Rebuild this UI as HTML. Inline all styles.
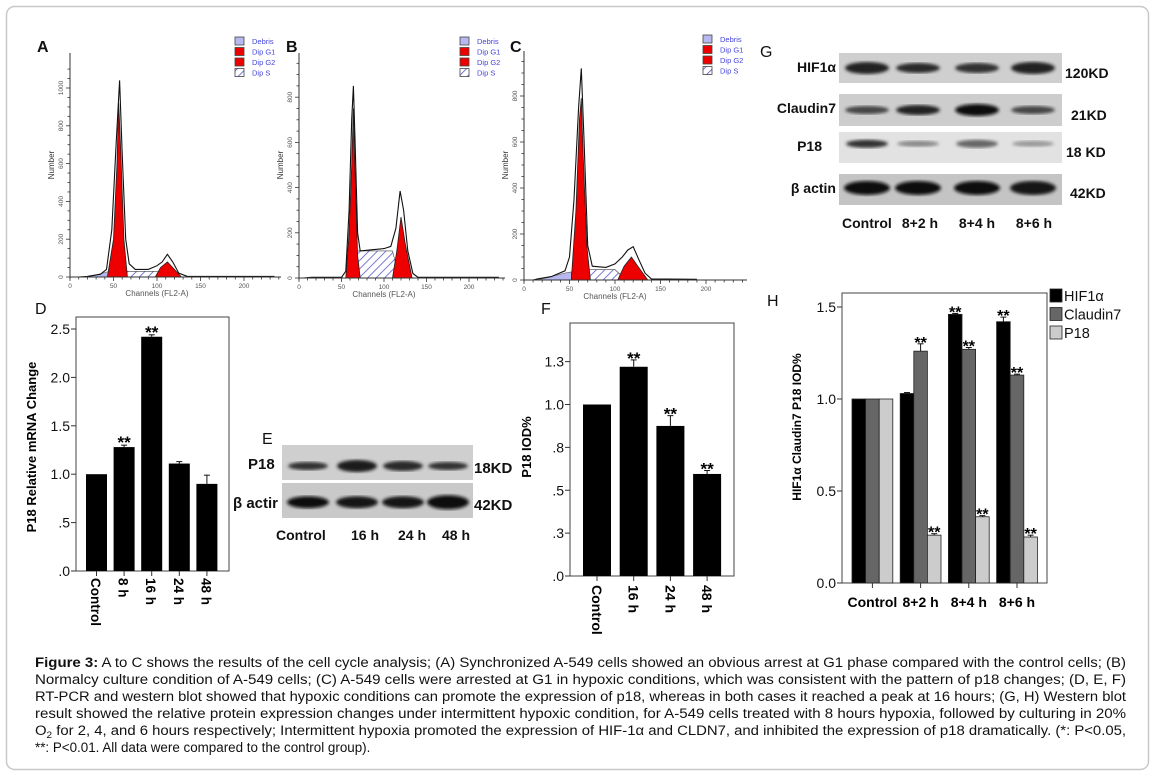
<!DOCTYPE html>
<html><head><meta charset="utf-8"><style>
html,body{margin:0;padding:0;background:#fff;}
svg{display:block;font-family:"Liberation Sans",Arial,sans-serif;}
</style></head><body>
<svg id="fig" width="1155" height="778" viewBox="0 0 1155 778" xmlns="http://www.w3.org/2000/svg">
<defs>
<pattern id="hatch" patternUnits="userSpaceOnUse" width="6" height="6" patternTransform="rotate(45)">
<rect width="6" height="6" fill="#fff"/><line x1="0" y1="0" x2="0" y2="6" stroke="#5555cc" stroke-width="1.6"/>
</pattern>
<filter id="blur1"><feGaussianBlur stdDeviation="1.6"/></filter>
</defs>
<rect x="6.5" y="6.5" width="1142" height="763" rx="8" fill="#fff" stroke="#c8c8c8" stroke-width="1.5"/>
<g id="hist"></g>
<g id="blotG"></g>
<g id="blotE"></g>
<g id="chartD"></g>
<g id="chartF"></g>
<g id="chartH"></g>
<g font-size="13.4" fill="#111">
<text x="35" y="667" textLength="1091" lengthAdjust="spacingAndGlyphs"><tspan font-weight="bold">Figure 3:</tspan> A to C shows the results of the cell cycle analysis; (A) Synchronized A-549 cells  showed an obvious arrest at G1 phase compared with the control cells; (B)</text>
<text x="35" y="684" textLength="1091" lengthAdjust="spacingAndGlyphs">Normalcy culture condition of A-549 cells; (C) A-549 cells were arrested at G1 in hypoxic conditions, which was consistent with the pattern of p18 changes; (D, E, F)</text>
<text x="35" y="701" textLength="1091" lengthAdjust="spacingAndGlyphs">RT-PCR and western blot showed that hypoxic conditions can promote the expression of p18, whereas in both cases it reached a peak at 16 hours; (G, H) Western blot</text>
<text x="35" y="718" textLength="1091" lengthAdjust="spacingAndGlyphs">result showed the relative protein expression changes under intermittent hypoxic condition, for A-549 cells treated with 8 hours hypoxia, followed by culturing in 20%</text>
<text x="35" y="735" textLength="1091" lengthAdjust="spacingAndGlyphs">O<tspan font-size="9" dy="3">2</tspan><tspan dy="-3"> for 2, 4, and 6 hours respectively; Intermittent hypoxia promoted the expression of HIF-1α and CLDN7, and inhibited the expression of p18 dramatically. (*: P&lt;0.05,</tspan></text>
<text x="35" y="752" font-size="13.4">**: P&lt;0.01. All data were compared to the control group).</text>
</g>
</svg>
<script>
// ---------- Chart D data ----------
const dCategories = ["Control","8 h","16 h","24 h","48 h"];
const dValues = [1.0, 1.28, 2.42, 1.11, 0.90];
const dErrors = [0.0, 0.02, 0.02, 0.02, 0.09];
const dStars = ["", "**", "**", "", ""];
const dTickValues = [0, 0.5, 1.0, 1.5, 2.0, 2.5];
const dTickLabels = [".0", ".5", "1.0", "1.5", "2.0", "2.5"];
// ---------- Chart F data ----------
const fCategories = ["Control","16 h","24 h","48 h"];
const fValues = [1.0, 1.22, 0.875, 0.595];
const fErrors = [0.0, 0.04, 0.06, 0.02];
const fStars = ["", "**", "**", "**"];
const fTickValues = [0, 0.25, 0.5, 0.75, 1.0, 1.25];
const fTickLabels = [".0", ".3", ".5", ".8", "1.0", "1.3"];
// ---------- Chart H data ----------
const hCategories = ["Control","8+2 h","8+4 h","8+6 h"];
const hSeriesNames = ["HIF1α","Claudin7","P18"];
const hHif = [1.0, 1.03, 1.46, 1.42];
const hClaudin = [1.0, 1.26, 1.27, 1.13];
const hP18 = [1.0, 0.26, 0.36, 0.25];
const hHifErr = [0, 0.005, 0.005, 0.025];
const hClaudinErr = [0, 0.04, 0.01, 0.005];
const hP18Err = [0, 0.008, 0.006, 0.01];
const hHifStars = ["", "", "**", "**"];
const hClaudinStars = ["", "**", "**", "**"];
const hP18Stars = ["", "**", "**", "**"];
const hTickValues = [0, 0.5, 1.0, 1.5];
const hTickLabels = ["0.0", "0.5", "1.0", "1.5"];
// ---------- Histogram data (channel, count) ----------
const aDebris = [[15,0],[30,10],[45,30],[50,0]];
const aS = [[55,0],[58,30],[100,30],[110,0]];
const aG1 = [[43,0],[50,200],[54,600],[56,920],[58,700],[62,200],[66,0]];
const aG2 = [[98,0],[104,50],[112,80],[120,40],[128,0]];
const aOutline = [[10,0],[20,3],[35,15],[42,40],[48,250],[53,700],[57,1040],[60,650],[64,200],[68,70],[75,40],[90,40],[100,60],[106,80],[112,120],[118,80],[125,20],[135,3],[235,3]];
const bDebris = [[5,0],[50,2],[55,0]];
const bS = [[63,0],[68,120],[110,120],[118,0]];
const bG1 = [[55,0],[59,200],[62,500],[64,750],[66,450],[69,100],[72,0]];
const bG2 = [[110,0],[115,120],[120,270],[125,150],[133,0]];
const bOutline = [[5,0],[15,3],[50,3],[55,30],[59,300],[62,700],[64,850],[66,600],[69,200],[72,120],[85,125],[100,130],[108,140],[114,220],[119,385],[123,300],[128,120],[134,20],[140,3],[235,3]];
const cDebris = [[15,0],[30,15],[45,30],[52,35],[52,0]];
const cS = [[62,0],[68,45],[100,45],[112,0]];
const cG1 = [[52,0],[57,300],[61,700],[63,790],[65,550],[69,150],[73,0]];
const cG2 = [[103,0],[110,60],[118,100],[125,60],[136,0]];
const cOutline = [[10,0],[15,5],[30,15],[45,40],[50,100],[55,350],[60,750],[63,920],[66,600],[70,150],[75,60],[90,55],[100,70],[108,100],[114,130],[120,145],[126,90],[133,30],[140,5],[190,3]];
const aYTicks = [0,200,400,600,800,1000];
const bYTicks = [0,200,400,600,800];
const cYTicks = [0,200,400,600,800];
const xChanTicks = [0,50,100,150,200];
const legendNames = ["Debris","Dip G1","Dip G2","Dip S"];

const NS = "http://www.w3.org/2000/svg";
function mk(parent, tag, attrs, text){
  const e = document.createElementNS(NS, tag);
  for (const k in attrs) e.setAttribute(k, attrs[k]);
  if (text !== undefined) e.textContent = text;
  parent.appendChild(e);
  return e;
}

// ---------- Histograms ----------
const hist = document.getElementById("hist");
function drawHist(p){
  const g = mk(hist, "g", {});
  
  
  const X = c => p.x0 + c * p.kx;
  const Y = n => p.y0 - n * p.ky;
  const poly = pts => pts.map(q => X(q[0]).toFixed(1) + "," + Y(q[1]).toFixed(1)).join(" ");
  let e = mk(g, "polygon", {points: poly(p.debris), fill:"#b8b8f0", stroke:"#666", "stroke-width":"0.6"});
  
  
  e = mk(g, "polygon", {points: poly(p.s), fill:"url(#hatch)", stroke:"#444", "stroke-width":"0.6"});
  
  
  e = mk(g, "polygon", {points: poly(p.g1), fill:"#ee0000", stroke:"#222", "stroke-width":"0.8"});
  
  
  e = mk(g, "polygon", {points: poly(p.g2), fill:"#ee0000", stroke:"#222", "stroke-width":"0.8"});
  
  
  e = mk(g, "polyline", {points: poly(p.outline), fill:"none", stroke:"#111", "stroke-width":"1.1"});
  
  
  mk(g, "line", {x1:p.x0, y1:p.yTop, x2:p.x0, y2:p.y0+2, stroke:"#333", "stroke-width":"1"});
  mk(g, "line", {x1:p.x0, y1:p.y0, x2:p.xEnd, y2:p.y0, stroke:"#333", "stroke-width":"1"});
  for (let c = 0; c <= 240; c += 10){
    const x = X(c); if (x > p.xEnd) break;
    mk(g, "line", {x1:x, y1:p.y0, x2:x, y2:p.y0 + (c%50===0?4:2.5), stroke:"#333", "stroke-width":"0.8"});
  }
  xChanTicks.forEach(c => {
    const t = mk(g, "text", {x:X(c), y:p.y0+11, "font-size":"6.5", fill:"#555", "text-anchor":"middle"}, String(c));
    
    
  });
  for (let n = 0; n <= p.yMax; n += 50){
    const y = Y(n); if (y < p.yTop) break;
    mk(g, "line", {x1:p.x0-(n%200===0?4:2.5), y1:y, x2:p.x0, y2:y, stroke:"#333", "stroke-width":"0.8"});
  }
  p.yTicks.forEach(n => {
    const t = mk(g, "text", {x:0, y:0, "font-size":"6.5", fill:"#555", "text-anchor":"middle", transform:`translate(${p.x0-7},${Y(n)}) rotate(-90)`}, String(n));
    
    
  });
  let t = mk(g, "text", {x:0, y:0, "font-size":"8", fill:"#333", "text-anchor":"middle", transform:`translate(${p.x0-16},${p.yLab}) rotate(-90)`}, "Number");
  
  
  t = mk(g, "text", {x:X(100), y:p.y0+19, "font-size":"8", fill:"#555", "text-anchor":"middle"}, "Channels (FL2-A)");
  
  
  t = mk(g, "text", {x:p.lx, y:p.ly, "font-size":"16", "font-weight":"bold", fill:"#111"}, p.id.toUpperCase());
  
  
  const fills = ["#b8b8f0","#ee0000","#ee0000","url(#hatch)"];
  legendNames.forEach((nm, i) => {
    const y = p.legY + i*10.5;
    const r = mk(g, "rect", {x:p.legX, y:y-4, width:9, height:8, fill:fills[i], stroke:"#444", "stroke-width":"0.8"});
    
    
    const tt = mk(g, "text", {x:p.legX+17, y:y+3, "font-size":"7.5", fill:"#4444dd"}, nm);
    
    
  });
}
drawHist({id:"a", x0:70, kx:0.87, y0:277, ky:0.189, yTop:53, xEnd:281, yMax:1100, yTicks:aYTicks, yLab:165,
  debris:aDebris, s:aS, g1:aG1, g2:aG2, outline:aOutline, lx:37, ly:52, legX:235, legY:41});
drawHist({id:"b", x0:299, kx:0.85, y0:278, ky:0.226, yTop:53, xEnd:505, yMax:950, yTicks:bYTicks, yLab:165,
  debris:bDebris, s:bS, g1:bG1, g2:bG2, outline:bOutline, lx:286, ly:52, legX:460, legY:41});
drawHist({id:"c", x0:524, kx:0.91, y0:280, ky:0.23, yTop:51, xEnd:747, yMax:950, yTicks:cYTicks, yLab:165,
  debris:cDebris, s:cS, g1:cG1, g2:cG2, outline:cOutline, lx:510, ly:52, legX:703, legY:39});

// ---------- Blots ----------
function blot(parent, name, x, y, w, h, bg, lanes, band){
  const g = mk(parent, "g", {});
  
  
  mk(g, "rect", {x:x, y:y, width:w, height:h, fill:bg});
  lanes.forEach((cx, i) => {
    const e = mk(g, "ellipse", {cx:cx, cy:y+h*band.pos, rx:band.rx, ry:band.ry[i], fill:band.col[i], filter:"url(#blur1)"});
    
    
  });
}
function label(parent, name, x, y, txt, size, anchor){
  const t = mk(parent, "text", {x:x, y:y, "font-size":size, "font-weight":"bold", fill:"#111", "text-anchor":anchor||"start"}, txt);
  
  
}
const gB = document.getElementById("blotG");
const gl = [867, 918, 977, 1033];
blot(gB, "hif1a-blot", 839, 53, 223, 30, "#cfcfcf", gl, {pos:0.5, rx:22, ry:[6,5,5,6], col:["#222","#2a2a2a","#333","#222"]});
blot(gB, "claudin7-blot", 839, 94, 223, 32, "#cdcdcd", gl, {pos:0.5, rx:22, ry:[4,5,6,4], col:["#444","#222","#111","#444"]});
blot(gB, "p18-blot-g", 839, 132, 223, 31, "#e2e2e2", gl, {pos:0.38, rx:21, ry:[4,3,4,3], col:["#333","#888","#666","#999"]});
blot(gB, "beta-actin-blot-g", 839, 174, 223, 31, "#c4c4c4", gl, {pos:0.45, rx:23, ry:[7,7,7,7], col:["#111","#111","#111","#151515"]});
label(gB, "panel-label", 760, 57, "G", 16);
gB.lastChild.setAttribute("font-weight","normal");
label(gB, "row-label", 836, 72, "HIF1α", 14, "end");
label(gB, "row-label", 836, 113, "Claudin7", 14, "end");
label(gB, "row-label", 822, 151, "P18", 14, "end");
label(gB, "row-label", 836, 193, "β actin", 14, "end");
label(gB, "size-label", 1065, 78, "120KD", 14);
label(gB, "size-label", 1071, 120, "21KD", 14);
label(gB, "size-label", 1066, 157, "18 KD", 14);
label(gB, "size-label", 1070, 198, "42KD", 14);
label(gB, "lane-label", 842, 228, "Control", 14);
label(gB, "lane-label", 920, 228, "8+2 h", 14, "middle");
label(gB, "lane-label", 977, 228, "8+4 h", 14, "middle");
label(gB, "lane-label", 1034, 228, "8+6 h", 14, "middle");

const gE = document.getElementById("blotE");
const el = [308, 357, 403, 448];
blot(gE, "p18-blot-e", 282, 445, 191, 35, "#cfcfcf", el, {pos:0.6, rx:20, ry:[4,6,5,4], col:["#333","#1a1a1a","#2a2a2a","#333"]});
blot(gE, "beta-actin-blot-e", 282, 483, 191, 35, "#c9c9c9", el, {pos:0.55, rx:21, ry:[6,6,6,7], col:["#111","#151515","#151515","#111"]});
label(gE, "panel-label", 262, 444, "E", 16);
gE.lastChild.setAttribute("font-weight","normal");
label(gE, "row-label", 248, 469, "P18", 15);
label(gE, "row-label", 233, 508, "β actir", 15);
label(gE, "size-label", 474, 473, "18KD", 15);
label(gE, "size-label", 474, 510, "42KD", 15);
label(gE, "lane-label", 276, 540, "Control", 14);
label(gE, "lane-label", 365, 540, "16 h", 14, "middle");
label(gE, "lane-label", 412, 540, "24 h", 14, "middle");
label(gE, "lane-label", 456, 540, "48 h", 14, "middle");

// ---------- Bar chart helpers ----------
function axisBox(g, L, T, R, B){
  const r = mk(g, "rect", {x:L, y:T, width:R-L, height:B-T, fill:"none", stroke:"#444", "stroke-width":"1"});
  
  
}
function yTicks(g, L, vals, labs, yf, size){
  vals.forEach((v, i) => {
    const y = yf(v);
    mk(g, "line", {x1:L-5, y1:y, x2:L, y2:y, stroke:"#333", "stroke-width":"1"});
    const t = mk(g, "text", {x:L-6, y:y+5, "font-size":size, fill:"#111", "text-anchor":"end"}, labs[i]);
    
    
  });
}
function errBar(g, cx, top, err, yf, v){
  if (err <= 0) return;
  const y1 = yf(v+err);
  mk(g, "line", {x1:cx, y1:top, x2:cx, y2:y1, stroke:"#111", "stroke-width":"1"});
  mk(g, "line", {x1:cx-3, y1:y1, x2:cx+3, y2:y1, stroke:"#111", "stroke-width":"1"});
}

// ---------- Chart D ----------
(function(){
  const g = document.getElementById("chartD");
  const L=76, T=317, R=229, B=571;
  const yD = v => B - v * 96.8;
  const xD = i => 86 + i * 27.6;
  axisBox(g, L, T, R, B);
  yTicks(g, L, dTickValues, dTickLabels, yD, 14);
  dValues.forEach((v, i) => {
    const r = mk(g, "rect", {x:xD(i), y:yD(v), width:21, height:B-yD(v), fill:"#000"});
    
    
    errBar(g, xD(i)+10.5, yD(v), dErrors[i], yD, v);
    if (dStars[i]) {
      const s = mk(g, "text", {x:xD(i)+10.5, y:yD(v+dErrors[i])+3, "font-size":"17", "font-weight":"bold", "text-anchor":"middle"}, dStars[i]);
      
      
    }
    mk(g, "line", {x1:xD(i)+10.5, y1:B, x2:xD(i)+10.5, y2:B+5, stroke:"#333"});
    const t = mk(g, "text", {x:0, y:0, "font-size":"13.5", "font-weight":"bold", transform:`translate(${xD(i)+5},${B+7}) rotate(90)`}, dCategories[i]);
    
    
  });
  label(g, "panel-label", 35, 314, "D", 16);
  g.lastChild.setAttribute("font-weight","normal");
  const yt = mk(g, "text", {x:0, y:0, "font-size":"13", "font-weight":"bold", "text-anchor":"middle", transform:"translate(36,447) rotate(-90)"}, "P18 Relative mRNA Change");
  
  
})();

// ---------- Chart F ----------
(function(){
  const g = document.getElementById("chartF");
  const L=570, T=323, R=734, B=576;
  const yF = v => B - v * 171.5;
  const xF = i => 583 + i * 36.7;
  axisBox(g, L, T, R, B);
  yTicks(g, L, fTickValues, fTickLabels, yF, 14);
  fValues.forEach((v, i) => {
    const r = mk(g, "rect", {x:xF(i), y:yF(v), width:28, height:B-yF(v), fill:"#000"});
    
    
    errBar(g, xF(i)+14, yF(v), fErrors[i], yF, v);
    if (fStars[i]) {
      const s = mk(g, "text", {x:xF(i)+14, y:yF(v+fErrors[i])+4, "font-size":"17", "font-weight":"bold", "text-anchor":"middle"}, fStars[i]);
      
      
    }
    mk(g, "line", {x1:xF(i)+14, y1:B, x2:xF(i)+14, y2:B+5, stroke:"#333"});
    const t = mk(g, "text", {x:0, y:0, "font-size":"14", "font-weight":"bold", transform:`translate(${xF(i)+9},${B+9}) rotate(90)`}, fCategories[i]);
    
    
  });
  label(g, "panel-label", 541, 314, "F", 16);
  g.lastChild.setAttribute("font-weight","normal");
  const yt = mk(g, "text", {x:0, y:0, "font-size":"13", "font-weight":"bold", "text-anchor":"middle", transform:"translate(531,447) rotate(-90)"}, "P18 IOD%");
  
  
})();

// ---------- Chart H ----------
(function(){
  const g = document.getElementById("chartH");
  const L=842, T=293, R=1047, B=583;
  const yH = v => B - v * 184;
  const gx = i => 852 + i * 48.2;
  const bw = 13.6;
  axisBox(g, L, T, R, B);
  yTicks(g, L, hTickValues, hTickLabels, yH, 14);
  const series = [hHif, hClaudin, hP18];
  const errs = [hHifErr, hClaudinErr, hP18Err];
  const stars = [hHifStars, hClaudinStars, hP18Stars];
  const cols = ["#000", "#666", "#cccccc"];
  series.forEach((arr, s) => {
    arr.forEach((v, i) => {
      const x = gx(i) + s * bw;
      const r = mk(g, "rect", {x:x, y:yH(v), width:bw, height:B-yH(v), fill:cols[s], stroke:"#222", "stroke-width":"0.8"});
      
      
      errBar(g, x+bw/2, yH(v), errs[s][i], yH, v);
      if (stars[s][i]) {
        const st = mk(g, "text", {x:x+bw/2, y:yH(v+errs[s][i])+4, "font-size":"16", "font-weight":"bold", "text-anchor":"middle"}, stars[s][i]);
        
        
      }
    });
  });
  hCategories.forEach((c, i) => {
    const cx = gx(i) + bw*1.5;
    mk(g, "line", {x1:cx, y1:B, x2:cx, y2:B+5, stroke:"#333"});
    const t = mk(g, "text", {x:cx, y:B+24, "font-size":"14", "font-weight":"bold", "text-anchor":"middle"}, c);
    
    
  });
  hSeriesNames.forEach((n, s) => {
    const y = 289 + s * 18.5;
    const r = mk(g, "rect", {x:1050, y:y, width:12, height:13, fill:cols[s], stroke:"#222", "stroke-width":"0.8"});
    
    
    const t = mk(g, "text", {x:1064, y:y+12, "font-size":"14.5", fill:"#111"}, n);
    
    
  });
  label(g, "panel-label", 767, 306, "H", 16);
  g.lastChild.setAttribute("font-weight","normal");
  const yt = mk(g, "text", {x:0, y:0, "font-size":"12", "font-weight":"bold", "text-anchor":"middle", transform:"translate(801,427) rotate(-90)"}, "HIF1α Claudin7 P18 IOD%");
  
  
})();
</script>
</body></html>
